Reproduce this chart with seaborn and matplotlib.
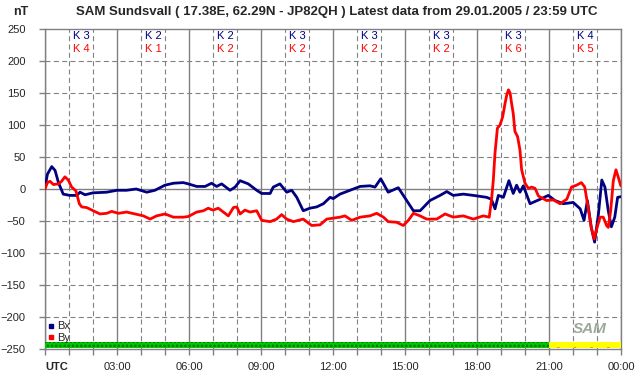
import pandas as pd
import seaborn as sns
import matplotlib.pyplot as plt
from matplotlib.lines import Line2D

# magnetometer readings (hours UTC, nT)
bx_hours = [0.0, 0.1, 0.28, 0.42, 0.56, 0.76, 1.04, 1.32, 1.46, 1.67, 2.0, 2.57, 3.0, 3.4, 3.8,
            4.24, 4.58, 5.0, 5.35, 5.76, 5.97, 6.32, 6.67, 6.94, 7.15, 7.36, 7.71, 7.92, 8.13,
            8.47, 8.82, 9.03, 9.38, 9.51, 9.79, 10.07, 10.28, 10.49, 10.76, 11.04, 11.32, 11.6,
            11.88, 12.01, 12.29, 12.71, 13.13, 13.54, 13.75, 13.99, 14.3, 14.72, 15.07, 15.35,
            15.63, 16.04, 16.46, 16.74, 17.01, 17.43, 17.85, 18.4, 18.6, 18.75, 18.89, 19.1,
            19.33, 19.51, 19.65, 19.79, 19.93, 20.21, 20.63, 20.97, 21.25, 21.6, 22.01, 22.3,
            22.46, 22.6, 22.76, 22.9, 23.06, 23.2, 23.33, 23.47, 23.6, 23.74, 23.86, 24.0]
bx_values = [2, 23, 35, 29, 10, -8, -10, -10, -5, -9, -6, -5, -2, -2, 0,
             -5, -2, 6, 9, 10, 8, 4, 4, 9, 4, 8, -2, 3, 13,
             8, -2, -7, -7, 3, 8, -5, -2, -13, -34, -30, -28, -23,
             -13, -15, -8, -2, 4, 5, 3, 16, -5, 2, -18, -34,
             -34, -18, -10, -4, -10, -8, -10, -13, -16, -31, -10, -13,
             13, -7, 6, -5, 5, -23, -16, -10, -18, -23, -21, -31,
             -49, -18, -60, -83, -39, 14, 3, -34, -59, -44, -13, -12]

by_hours = [0.0, 0.1, 0.21, 0.35, 0.56, 0.69, 0.83, 0.97, 1.11, 1.29, 1.43, 1.53, 1.74, 2.01,
            2.29, 2.57, 2.78, 3.06, 3.4, 3.75, 4.1, 4.38, 4.65, 5.0, 5.35, 5.76, 5.97, 6.32,
            6.6, 6.8, 7.0, 7.22, 7.43, 7.64, 7.85, 7.99, 8.13, 8.33, 8.54, 8.82, 9.03, 9.38,
            9.65, 9.86, 10.07, 10.35, 10.76, 11.11, 11.46, 11.74, 12.29, 12.5, 12.78, 13.13,
            13.54, 13.82, 14.1, 14.3, 14.65, 14.93, 15.14, 15.35, 15.63, 15.9, 16.32, 16.67,
            17.01, 17.43, 17.85, 18.26, 18.51, 18.61, 18.68, 18.75, 18.85, 18.96, 19.07, 19.17,
            19.24, 19.31, 19.38, 19.44, 19.51, 19.58, 19.69, 19.79, 19.86, 20.0, 20.14, 20.28,
            20.42, 20.56, 20.9, 21.18, 21.46, 21.74, 21.94, 22.15, 22.35, 22.49, 22.63, 22.76,
            22.88, 22.99, 23.13, 23.26, 23.4, 23.47, 23.57, 23.68, 23.79, 23.89, 23.99]
by_values = [0, 10, 12, 7, 8, 12, 19, 14, 3, -3, -23, -28, -29, -34,
             -39, -38, -35, -38, -36, -39, -42, -47, -42, -39, -44, -44, -43, -36,
             -34, -30, -33, -30, -36, -42, -29, -28, -39, -33, -36, -34, -49, -51,
             -47, -40, -47, -51, -47, -57, -56, -47, -44, -42, -49, -44,
             -42, -38, -44, -51, -52, -57, -49, -38, -42, -47, -47, -39,
             -44, -42, -47, -42, -44, -15, 14, 56, 95, 100, 113, 134,
             147, 155, 150, 134, 118, 90, 82, 61, 30, 9, 1, 3,
             1, -11, -18, -17, -23, -16, 3, 6, 10, 3, -29, -60,
             -78, -62, -44, -44, -57, -60, -34, 13, 30, 18, 5]

# K indices per 3-hour block
k_bx = [3, 2, 2, 3, 3, 3, 3, 4]
k_by = [4, 1, 2, 2, 2, 2, 6, 5]

tick_labels = ['UTC', '03:00', '06:00', '09:00', '12:00', '15:00', '18:00', '21:00', '00:00']

# data status bar: (start hour, end hour)
status_ok = (0, 21)
status_partial = (21, 24)

df = pd.concat([
    pd.DataFrame({'hour': bx_hours, 'nT': bx_values, 'comp': 'Bx'}),
    pd.DataFrame({'hour': by_hours, 'nT': by_values, 'comp': 'By'}),
])

sns.set_style('white')
plt.rcParams['font.family'] = ['Liberation Sans', 'DejaVu Sans']
plt.rcParams['hatch.linewidth'] = 1.2

fig = plt.figure(figsize=(6.42, 3.76), dpi=100)
ax = fig.add_axes([45 / 642, 27 / 376, 576 / 642, 320 / 376])

grey = '#808080'
dash = (0, (4.5, 3))

# grid
for h in range(25):
    if h % 3 == 0:
        ax.axvline(h, color=grey, lw=1, zorder=0)
    else:
        ax.axvline(h, color=grey, lw=0.8, ls=dash, zorder=0)
for v in range(-200, 250, 50):
    if v == 0:
        ax.axhline(v, color=grey, lw=1, zorder=0)
    else:
        ax.axhline(v, color=grey, lw=0.8, ls=dash, zorder=0)

sns.lineplot(data=df, x='hour', y='nT', hue='comp', palette={'Bx': '#000080', 'By': '#ff0000'},
             lw=2, legend=False, ax=ax, sort=False, estimator=None, zorder=3)

# status bar
ax.broken_barh([(status_ok[0], status_ok[1] - status_ok[0])], (-248, 9),
               facecolor='#00c800', edgecolor='#007000', hatch='....', lw=0, zorder=4)
ax.broken_barh([(status_partial[0], status_partial[1] - status_partial[0])], (-248, 9),
               facecolor='#ffff00', edgecolor='#ff0000', hatch='.', lw=0, zorder=4)

ax.set_xlim(0, 24)
ax.set_ylim(-250, 250)
ax.set_xlabel('')
ax.set_ylabel('')
for s in ax.spines.values():
    s.set_color(grey)
    s.set_linewidth(1)

ax.set_xticks(range(0, 25, 3))
ax.set_xticks(range(25), minor=True)
ax.set_xticklabels(tick_labels)
ax.set_yticks(range(-250, 251, 50))
ax.tick_params(which='both', direction='out', length=4, width=1, color=grey,
               labelsize=8, bottom=True, left=True)
ax.tick_params(axis='y', pad=10)
ax.tick_params(axis='x', pad=5)
lbls = ax.get_xticklabels()
lbls[0].set_fontweight('bold')
lbls[0].set_horizontalalignment('left')

# K indices
for i in range(8):
    ax.text(1.5 + 3 * i, 239, f'K {k_bx[i]}', color='#000080', fontsize=8, ha='center', va='center')
    ax.text(1.5 + 3 * i, 219, f'K {k_by[i]}', color='#ff0000', fontsize=8, ha='center', va='center')

# legend
handles = [Line2D([], [], marker='s', ls='', color='#000080', markersize=3),
           Line2D([], [], marker='s', ls='', color='#ff0000', markersize=3)]
ax.legend(handles, ['Bx', 'By'], loc='lower left', bbox_to_anchor=(0.004, 0.02), frameon=False,
          fontsize=8, handlelength=0.6, handletextpad=0.3, labelspacing=0.1, borderpad=0,
          borderaxespad=0)

# logo
ax.text(22.7, -218, 'SAM', color='#9aaa9a', fontsize=11, fontweight='bold', fontstyle='italic',
        ha='center', va='center', zorder=5)

fig.text(21 / 642, 1 - 12 / 376, 'nT', fontsize=9, fontweight='bold', ha='center', va='center')
fig.text(337 / 642, 1 - 12 / 376,
         'SAM Sundsvall ( 17.38E, 62.29N - JP82QH ) Latest data from 29.01.2005 / 23:59 UTC',
         fontsize=9.5, fontweight='bold', ha='center', va='center')

fig.savefig('out.png', dpi=100)
